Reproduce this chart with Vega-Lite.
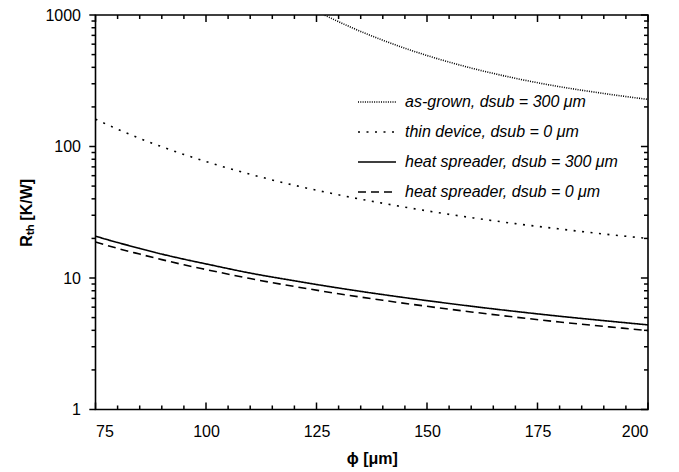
{
  "$schema": "https://vega.github.io/schema/vega-lite/v6.json",
  "width": 552.5,
  "height": 394.5,
  "autosize": {"type": "none"},
  "padding": {"left": 95.5, "top": 15, "right": 31, "bottom": 62.5},
  "background": "white",
  "config": {
    "view": {"stroke": "black", "strokeWidth": 1.6},
    "font": "Liberation Sans",
    "axis": {
      "grid": false,
      "domain": false,
      "ticks": false,
      "tickSize": 0,
      "labelFont": "Liberation Sans",
      "labelFontSize": 16,
      "labelColor": "black",
      "titleFont": "Liberation Sans",
      "titleFontSize": 16,
      "titleFontWeight": "bold",
      "titleColor": "black"
    }
  },
  "datasets": {
    "curves": [
      {"phi": 75, "R": 161.3, "series": "thin device, dsub = 0 μm"},
      {"phi": 80, "R": 135.3, "series": "thin device, dsub = 0 μm"},
      {"phi": 85, "R": 115.3, "series": "thin device, dsub = 0 μm"},
      {"phi": 90, "R": 99.6, "series": "thin device, dsub = 0 μm"},
      {"phi": 95, "R": 87.0, "series": "thin device, dsub = 0 μm"},
      {"phi": 100, "R": 76.8, "series": "thin device, dsub = 0 μm"},
      {"phi": 110, "R": 61.5, "series": "thin device, dsub = 0 μm"},
      {"phi": 120, "R": 50.7, "series": "thin device, dsub = 0 μm"},
      {"phi": 130, "R": 42.9, "series": "thin device, dsub = 0 μm"},
      {"phi": 140, "R": 37.0, "series": "thin device, dsub = 0 μm"},
      {"phi": 150, "R": 32.4, "series": "thin device, dsub = 0 μm"},
      {"phi": 160, "R": 28.8, "series": "thin device, dsub = 0 μm"},
      {"phi": 170, "R": 25.9, "series": "thin device, dsub = 0 μm"},
      {"phi": 180, "R": 23.6, "series": "thin device, dsub = 0 μm"},
      {"phi": 190, "R": 21.6, "series": "thin device, dsub = 0 μm"},
      {"phi": 200, "R": 20.0, "series": "thin device, dsub = 0 μm"},
      {"phi": 75, "R": 20.8, "series": "heat spreader, dsub = 300 μm"},
      {"phi": 80, "R": 18.6, "series": "heat spreader, dsub = 300 μm"},
      {"phi": 85, "R": 16.8, "series": "heat spreader, dsub = 300 μm"},
      {"phi": 90, "R": 15.2, "series": "heat spreader, dsub = 300 μm"},
      {"phi": 95, "R": 13.9, "series": "heat spreader, dsub = 300 μm"},
      {"phi": 100, "R": 12.8, "series": "heat spreader, dsub = 300 μm"},
      {"phi": 110, "R": 10.9, "series": "heat spreader, dsub = 300 μm"},
      {"phi": 120, "R": 9.52, "series": "heat spreader, dsub = 300 μm"},
      {"phi": 130, "R": 8.39, "series": "heat spreader, dsub = 300 μm"},
      {"phi": 140, "R": 7.48, "series": "heat spreader, dsub = 300 μm"},
      {"phi": 150, "R": 6.73, "series": "heat spreader, dsub = 300 μm"},
      {"phi": 160, "R": 6.10, "series": "heat spreader, dsub = 300 μm"},
      {"phi": 170, "R": 5.57, "series": "heat spreader, dsub = 300 μm"},
      {"phi": 180, "R": 5.12, "series": "heat spreader, dsub = 300 μm"},
      {"phi": 190, "R": 4.74, "series": "heat spreader, dsub = 300 μm"},
      {"phi": 200, "R": 4.40, "series": "heat spreader, dsub = 300 μm"},
      {"phi": 75, "R": 18.8, "series": "heat spreader, dsub = 0 μm"},
      {"phi": 80, "R": 16.8, "series": "heat spreader, dsub = 0 μm"},
      {"phi": 85, "R": 15.2, "series": "heat spreader, dsub = 0 μm"},
      {"phi": 90, "R": 13.8, "series": "heat spreader, dsub = 0 μm"},
      {"phi": 95, "R": 12.6, "series": "heat spreader, dsub = 0 μm"},
      {"phi": 100, "R": 11.6, "series": "heat spreader, dsub = 0 μm"},
      {"phi": 110, "R": 9.90, "series": "heat spreader, dsub = 0 μm"},
      {"phi": 120, "R": 8.62, "series": "heat spreader, dsub = 0 μm"},
      {"phi": 130, "R": 7.59, "series": "heat spreader, dsub = 0 μm"},
      {"phi": 140, "R": 6.77, "series": "heat spreader, dsub = 0 μm"},
      {"phi": 150, "R": 6.09, "series": "heat spreader, dsub = 0 μm"},
      {"phi": 160, "R": 5.52, "series": "heat spreader, dsub = 0 μm"},
      {"phi": 170, "R": 5.04, "series": "heat spreader, dsub = 0 μm"},
      {"phi": 180, "R": 4.63, "series": "heat spreader, dsub = 0 μm"},
      {"phi": 190, "R": 4.29, "series": "heat spreader, dsub = 0 μm"},
      {"phi": 200, "R": 3.98, "series": "heat spreader, dsub = 0 μm"},
      {"phi": 125, "R": 1071, "series": "as-grown, dsub = 300 μm"},
      {"phi": 127, "R": 992, "series": "as-grown, dsub = 300 μm"},
      {"phi": 130, "R": 889, "series": "as-grown, dsub = 300 μm"},
      {"phi": 135, "R": 750, "series": "as-grown, dsub = 300 μm"},
      {"phi": 140, "R": 643, "series": "as-grown, dsub = 300 μm"},
      {"phi": 145, "R": 559, "series": "as-grown, dsub = 300 μm"},
      {"phi": 150, "R": 492, "series": "as-grown, dsub = 300 μm"},
      {"phi": 160, "R": 395, "series": "as-grown, dsub = 300 μm"},
      {"phi": 170, "R": 330, "series": "as-grown, dsub = 300 μm"},
      {"phi": 180, "R": 285, "series": "as-grown, dsub = 300 μm"},
      {"phi": 190, "R": 253, "series": "as-grown, dsub = 300 μm"},
      {"phi": 200, "R": 228, "series": "as-grown, dsub = 300 μm"}
    ],
    "xmajor": [{"phi": 75}, {"phi": 100}, {"phi": 125}, {"phi": 150}, {"phi": 175}, {"phi": 200}],
    "xminor": [{"phi": 80}, {"phi": 85}, {"phi": 90}, {"phi": 95}, {"phi": 105}, {"phi": 110}, {"phi": 115}, {"phi": 120}, {"phi": 130}, {"phi": 135}, {"phi": 140}, {"phi": 145}, {"phi": 155}, {"phi": 160}, {"phi": 165}, {"phi": 170}, {"phi": 180}, {"phi": 185}, {"phi": 190}, {"phi": 195}],
    "ymajor": [{"R": 1}, {"R": 10}, {"R": 100}, {"R": 1000}],
    "yminor": [{"R": 2}, {"R": 3}, {"R": 4}, {"R": 5}, {"R": 6}, {"R": 7}, {"R": 8}, {"R": 9}, {"R": 20}, {"R": 30}, {"R": 40}, {"R": 50}, {"R": 60}, {"R": 70}, {"R": 80}, {"R": 90}, {"R": 200}, {"R": 300}, {"R": 400}, {"R": 500}, {"R": 600}, {"R": 700}, {"R": 800}, {"R": 900}]
  },
  "layer": [
    {
      "data": {"name": "curves"},
      "mark": {"type": "line", "clip": true, "color": "black", "strokeWidth": 1.6, "interpolate": "monotone"},
      "encoding": {
        "x": {
          "field": "phi", "type": "quantitative",
          "scale": {"domain": [75, 200], "nice": false, "zero": false},
          "axis": {
            "orient": "bottom",
            "values": [75, 100, 125, 150, 175, 200],
            "labelPadding": 14,
            "title": "ϕ [μm]",
            "titlePadding": 11
          }
        },
        "y": {
          "field": "R", "type": "quantitative",
          "scale": {"type": "log", "domain": [1, 1000], "nice": false},
          "axis": {
            "orient": "left",
            "values": [1, 10, 100, 1000],
            "format": "d",
            "labelPadding": 15,
            "title": "Rₜₕ [K/W]",
            "titlePadding": 10
          }
        },
        "strokeDash": {
          "field": "series", "type": "nominal",
          "scale": {
            "domain": ["as-grown, dsub = 300 μm", "thin device, dsub = 0 μm", "heat spreader, dsub = 300 μm", "heat spreader, dsub = 0 μm"],
            "range": [[1, 1.3], [2, 6.5], [1, 0], [8, 5]]
          },
          "legend": {
            "orient": "none",
            "legendX": 261.5,
            "legendY": 67,
            "title": null,
            "padding": 0,
            "symbolType": "stroke",
            "symbolSize": 1444,
            "symbolStrokeWidth": 1.6,
            "symbolStrokeColor": "black",
            "symbolFillColor": "transparent",
            "labelFont": "Liberation Sans",
            "labelFontSize": 16,
            "labelFontStyle": "italic",
            "labelColor": "black",
            "labelOffset": 8,
            "labelLimit": 400,
            "rowPadding": 2
          }
        }
      }
    },
    {
      "data": {"name": "xmajor"},
      "mark": {"type": "rule", "color": "black", "strokeWidth": 1.5},
      "encoding": {
        "x": {"field": "phi", "type": "quantitative", "scale": {"domain": [75, 200], "nice": false, "zero": false}},
        "y": {"datum": 1, "type": "quantitative", "scale": {"type": "log", "domain": [1, 1000], "nice": false}},
        "y2": {"datum": 1.13}
      }
    },
    {
      "data": {"name": "xmajor"},
      "mark": {"type": "rule", "color": "black", "strokeWidth": 1.5},
      "encoding": {
        "x": {"field": "phi", "type": "quantitative", "scale": {"domain": [75, 200], "nice": false, "zero": false}},
        "y": {"datum": 1000, "type": "quantitative", "scale": {"type": "log", "domain": [1, 1000], "nice": false}},
        "y2": {"datum": 885}
      }
    },
    {
      "data": {"name": "xminor"},
      "mark": {"type": "rule", "color": "black", "strokeWidth": 1.5},
      "encoding": {
        "x": {"field": "phi", "type": "quantitative", "scale": {"domain": [75, 200], "nice": false, "zero": false}},
        "y": {"datum": 1, "type": "quantitative", "scale": {"type": "log", "domain": [1, 1000], "nice": false}},
        "y2": {"datum": 1.073}
      }
    },
    {
      "data": {"name": "xminor"},
      "mark": {"type": "rule", "color": "black", "strokeWidth": 1.5},
      "encoding": {
        "x": {"field": "phi", "type": "quantitative", "scale": {"domain": [75, 200], "nice": false, "zero": false}},
        "y": {"datum": 1000, "type": "quantitative", "scale": {"type": "log", "domain": [1, 1000], "nice": false}},
        "y2": {"datum": 932}
      }
    },
    {
      "data": {"name": "ymajor"},
      "mark": {"type": "rule", "color": "black", "strokeWidth": 1.5},
      "encoding": {
        "y": {"field": "R", "type": "quantitative", "scale": {"type": "log", "domain": [1, 1000], "nice": false}},
        "x": {"datum": 73.6, "type": "quantitative", "scale": {"domain": [75, 200], "nice": false, "zero": false}},
        "x2": {"datum": 75}
      }
    },
    {
      "data": {"name": "yminor"},
      "mark": {"type": "rule", "color": "black", "strokeWidth": 1.5},
      "encoding": {
        "y": {"field": "R", "type": "quantitative", "scale": {"type": "log", "domain": [1, 1000], "nice": false}},
        "x": {"datum": 74.1, "type": "quantitative", "scale": {"domain": [75, 200], "nice": false, "zero": false}},
        "x2": {"datum": 75}
      }
    },
    {
      "data": {"name": "ymajor"},
      "mark": {"type": "rule", "color": "black", "strokeWidth": 1.5},
      "encoding": {
        "y": {"field": "R", "type": "quantitative", "scale": {"type": "log", "domain": [1, 1000], "nice": false}},
        "x": {"datum": 198.4, "type": "quantitative", "scale": {"domain": [75, 200], "nice": false, "zero": false}},
        "x2": {"datum": 200}
      }
    },
    {
      "data": {"name": "yminor"},
      "mark": {"type": "rule", "color": "black", "strokeWidth": 1.5},
      "encoding": {
        "y": {"field": "R", "type": "quantitative", "scale": {"type": "log", "domain": [1, 1000], "nice": false}},
        "x": {"datum": 199.1, "type": "quantitative", "scale": {"domain": [75, 200], "nice": false, "zero": false}},
        "x2": {"datum": 200}
      }
    }
  ]
}
